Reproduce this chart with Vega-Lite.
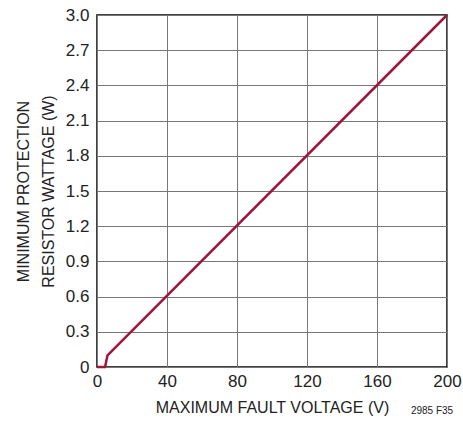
{
  "$schema": "https://vega.github.io/schema/vega-lite/v6.json",
  "width": 350,
  "height": 352,
  "autosize": "none",
  "padding": {"left": 97, "top": 15, "right": 16, "bottom": 57},
  "background": "white",
  "config": {
    "font": "Liberation Sans",
    "view": {"stroke": "black", "strokeWidth": 1.5},
    "axis": {
      "labelFont": "Liberation Sans",
      "titleFont": "Liberation Sans",
      "labelFontSize": 17,
      "titleFontSize": 16,
      "labelColor": "#222",
      "titleColor": "#222",
      "titleFontWeight": "normal",
      "gridColor": "#777",
      "gridWidth": 1,
      "gridOpacity": 1,
      "domainColor": "black",
      "ticks": false
    }
  },
  "layer": [
    {
      "data": {"values": [
        {"v": 0, "w": 0},
        {"v": 4.6, "w": 0},
        {"v": 6, "w": 0.1},
        {"v": 200, "w": 3.0}
      ]},
      "mark": {"type": "line", "color": "#A0163A", "strokeWidth": 2.5},
      "encoding": {
        "x": {
          "field": "v", "type": "quantitative",
          "scale": {"domain": [0, 200], "nice": false},
          "axis": {"values": [0, 40, 80, 120, 160, 200], "tickCount": 6, "title": "MAXIMUM FAULT VOLTAGE (V)", "labelPadding": 6, "titlePadding": 10, "labelFlush": false, "labelOverlap": false, "domain": false}
        },
        "y": {
          "field": "w", "type": "quantitative",
          "scale": {"domain": [0, 3], "nice": false},
          "axis": {
            "values": [0, 0.3, 0.6, 0.9, 1.2, 1.5, 1.8, 2.1, 2.4, 2.7, 3.0],
            "tickCount": 11,
            "labelExpr": "datum.value == 0 ? '0' : format(datum.value, '.1f')",
            "title": ["MINIMUM PROTECTION", "RESISTOR WATTAGE (W)"],
            "titleLineHeight": 25,
            "labelPadding": 8,
            "titlePadding": 9,
            "labelFlush": false,
            "labelOverlap": false,
            "domain": false
          }
        }
      }
    },
    {
      "data": {"values": [{"label": "2985 F35"}]},
      "mark": {"type": "text", "font": "Liberation Sans", "fontSize": 10, "color": "#222", "dx": -15, "dy": 44, "clip": false},
      "encoding": {
        "x": {"datum": 200, "type": "quantitative"},
        "y": {"datum": 0, "type": "quantitative"},
        "text": {"field": "label"}
      }
    }
  ]
}
